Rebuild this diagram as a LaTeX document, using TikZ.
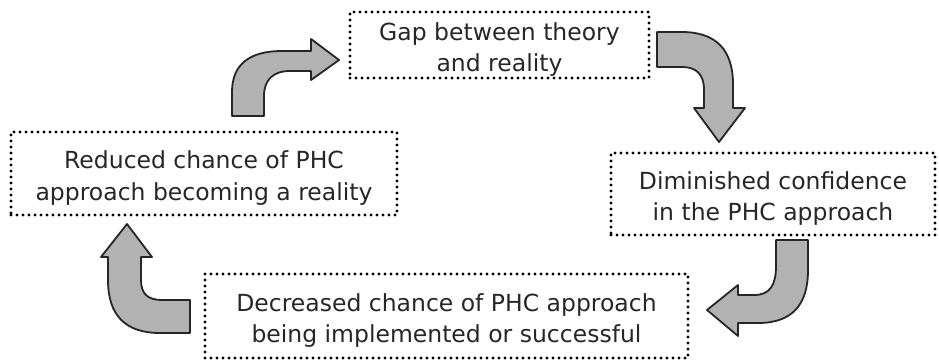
\documentclass[tikz,border=0pt]{standalone}
\usepackage{fontspec}
\setmainfont{DejaVu Sans}
\begin{document}
\begin{tikzpicture}[x=1pt,y=-1pt,
  stage/.style={draw=black, line width=3.2pt, line cap=round, dash pattern=on 0pt off 6pt,
    align=center, text=black!85, font=\fontsize{23.5}{31.5}\selectfont, inner sep=0pt, text height=58pt},
  turn/.style={draw=black!85, line width=1.8pt, fill=black!30, line join=round}]
\useasboundingbox (0,0) rectangle (939,362);
% the four stages of the cycle
\node[stage, minimum width=299pt, minimum height=66pt] (gap) at (499.5,45) {Gap between theory\\and reality};
\node[stage, minimum width=324pt, minimum height=82pt] (diminished) at (773,194) {Diminished confidence\\in the PHC approach};
\node[stage, minimum width=483pt, minimum height=84pt] (decreased) at (446.5,316) {Decreased chance of PHC approach\\being implemented or successful};
\node[stage, minimum width=386pt, minimum height=83pt] (reduced) at (204,173.5) {Reduced chance of PHC\\approach becoming a reality};
% bent block arrows between the stages
% up, then right
\draw[turn] (232,116) -- (232,92) .. controls (232,64) and (250,51) .. (282,51) -- (311,51) -- (311,39) -- (339,60) -- (311,80) -- (311,71) -- (290,71) .. controls (273,71) and (264,80) .. (264,96) -- (264,116) -- cycle;
% right, then down
\draw[turn] (657,32) -- (682,32) .. controls (716,32) and (733,50) .. (733,84) -- (733,108) -- (745,108) -- (719,142) -- (694,108) -- (704,108) -- (704,90) .. controls (704,74) and (696,67) .. (682,67) -- (657,67) -- cycle;
% down, then left
\draw[turn] (808,240) -- (808,270) .. controls (808,305) and (792,323) .. (758,323) -- (738,323) -- (738,336) -- (707,310) -- (738,285) -- (738,295) -- (754,295) .. controls (770,295) and (776,285) .. (776,266) -- (776,240) -- cycle;
% left, then up
\draw[turn] (190,333) -- (160,333) .. controls (125,333) and (108,315) .. (108,280) -- (108,257) -- (101,257) -- (127,224) -- (152,257) -- (141,257) -- (141,280) .. controls (141,294) and (148,300) .. (162,300) -- (190,300) -- cycle;
\end{tikzpicture}
\end{document}
